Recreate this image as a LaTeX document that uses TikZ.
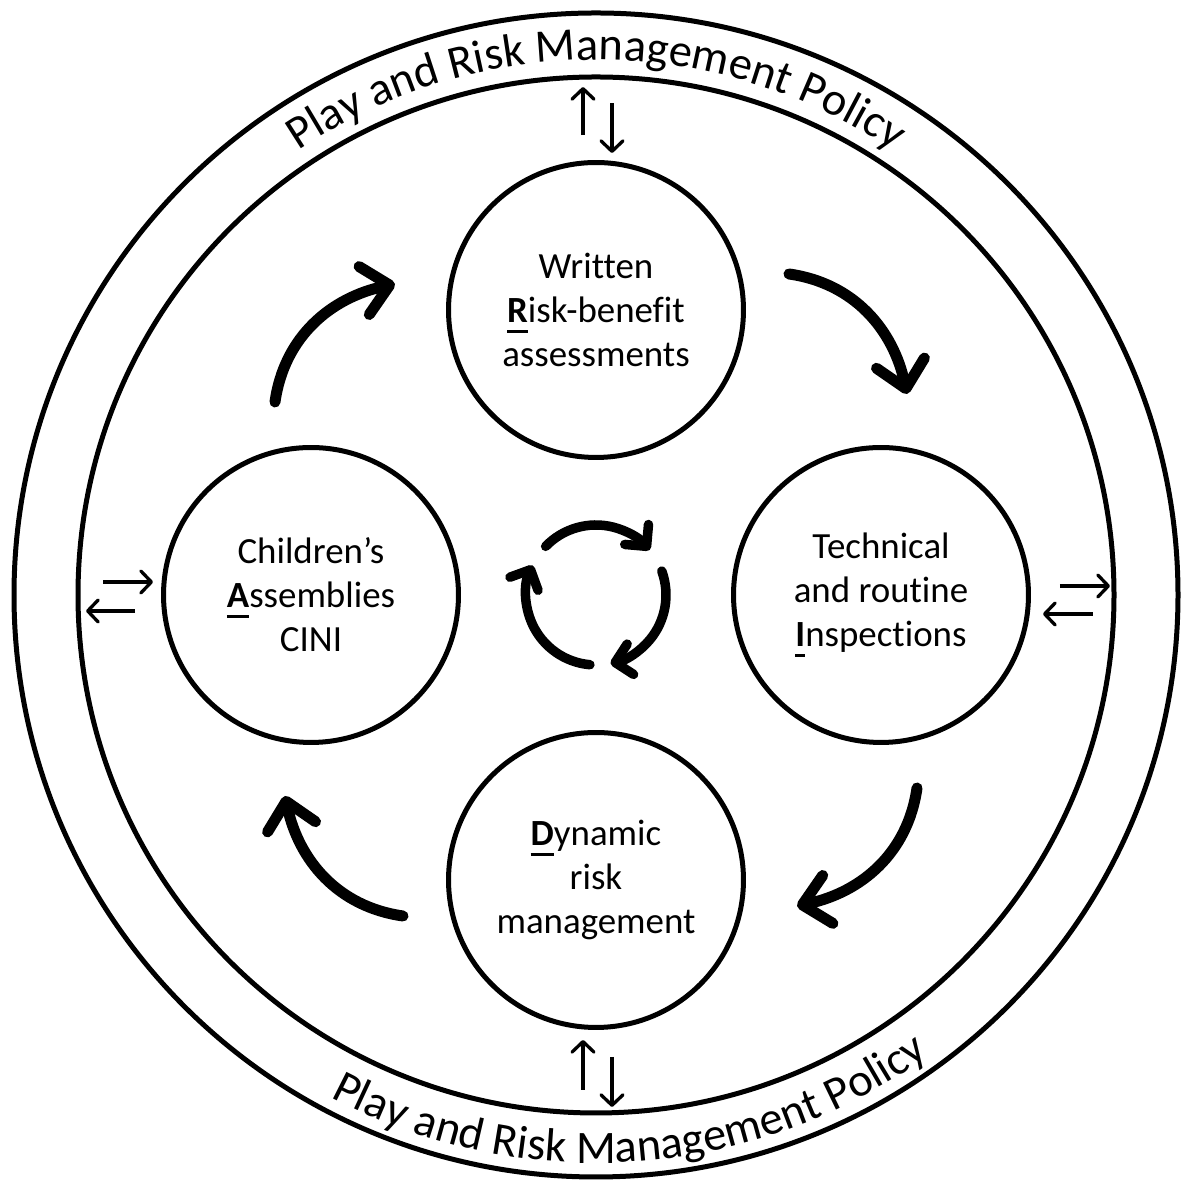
\documentclass[tikz,border=0pt]{standalone}
\usepackage{fontspec}
\setmainfont{Carlito}[Ligatures=NoCommon]
\usetikzlibrary{arrows.meta,decorations.text}
\newsavebox\klbox
\def\kl#1{\sbox\klbox{\textbf{#1}}\rlap{\rule[-0.27em]{\wd\klbox}{0.08em}}\usebox\klbox}
\tikzset{
	ringline/.style={line width=0.1cm},
	stage/.style={circle, draw, line width=0.1cm, minimum size=5.9cm, inner sep=0pt, align=center, font=\fontsize{21}{25}\selectfont},
	loopar/.style={line width=0.22cm, line cap=round, -{Straight Barb[round,length=0.52cm,width=0.98cm]}},
	spinarr/.style={line width=0.19cm, line cap=round, -{Straight Barb[round,length=0.31cm,width=0.62cm]}},
	xchg/.style={line width=0.066cm, -{Straight Barb[round,length=0.21cm,width=0.44cm]}},
	policy/.style={decorate, decoration={text along path, text align=center, text={|\fontsize{26.5}{30}\selectfont|Play and Risk Management Policy}}}
}

\begin{document}
\begin{tikzpicture}[x=0.02cm, y=0.02cm]
		%%%%% START %%%%%
		\useasboundingbox (0,0) rectangle (1184,1182);
		
		\coordinate (c) at (596,587);
		\draw[ringline] (c) circle[radius=582];
		\draw[ringline] (c) circle[radius=518];
		
		\path[policy] ([shift={(170:535)}]c) arc[start angle=170, end angle=10, radius=535];
		\path[policy] ([shift={(194:568)}]c) arc[start angle=194, end angle=354, radius=568];
		
		\node[stage] (rba) at (596,872) {Written\\\kl{R}isk-benefit\\assessments};
		\node[stage] (tri) at (881,587) {Technical\\and routine\\\kl{I}nspections};
		\node[stage] (drm) at (596,302) {\kl{D}ynamic\\risk\\management};
		\node[stage] (cini) at (311,587) {Children’s\\\kl{A}ssemblies\\CINI};
		
		\draw[loopar] ([shift={(193,36)}]rba.center) to[out=-8,in=102] ([shift={(26,201)}]tri.center);
		\draw[loopar] ([shift={(36,-193)}]tri.center) to[out=-98,in=12] ([shift={(201,-26)}]drm.center);
		\draw[loopar] ([shift={(-193,-36)}]drm.center) to[out=172,in=-78] ([shift={(-26,-201)}]cini.center);
		\draw[loopar] ([shift={(-36,193)}]cini.center) to[out=82,in=192] ([shift={(-201,26)}]rba.center);
		
		\draw[spinarr] ([shift={(136:70)}]c) arc[start angle=136, end angle=40, radius=70];
		\draw[spinarr] ([shift={(20:70)}]c) arc[start angle=20, end angle=-78, radius=70];
		\draw[spinarr] ([shift={(-95:70)}]c) arc[start angle=-95, end angle=-205, radius=70];
		
		\draw[xchg] ([shift={(-13,25)}]rba.north) -- ([shift={(-13,73)}]rba.north);
		\draw[xchg] ([shift={(16,57)}]rba.north) -- ([shift={(16,7)}]rba.north);
		\draw[xchg] ([shift={(-13,-60)}]drm.south) -- ([shift={(-13,-10)}]drm.south);
		\draw[xchg] ([shift={(16,-27)}]drm.south) -- ([shift={(16,-77)}]drm.south);
		\draw[xchg] ([shift={(-58,13)}]cini.west) -- ([shift={(-8,13)}]cini.west);
		\draw[xchg] ([shift={(-26,-16)}]cini.west) -- ([shift={(-75,-16)}]cini.west);
		\draw[xchg] ([shift={(29,9)}]tri.east) -- ([shift={(79,9)}]tri.east);
		\draw[xchg] ([shift={(62,-19)}]tri.east) -- ([shift={(12,-19)}]tri.east);
		
		%%%%% END %%%%%
\end{tikzpicture}
\end{document}
